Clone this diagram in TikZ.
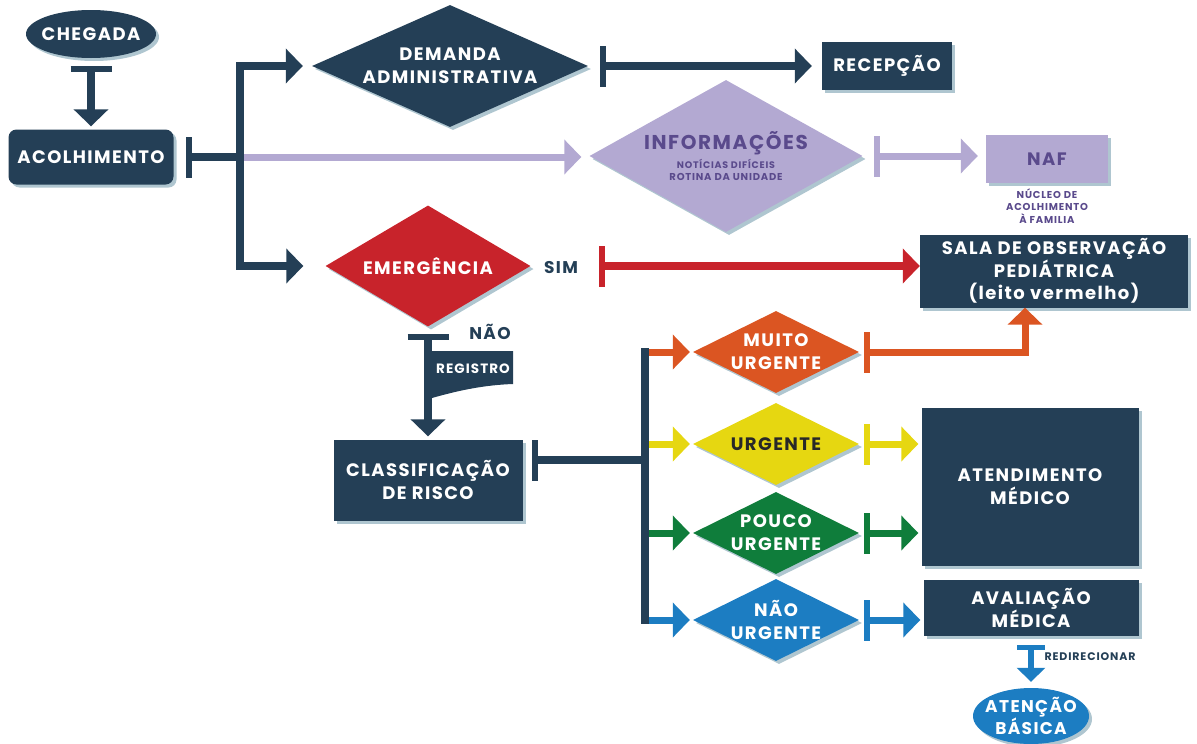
\documentclass[tikz,border=0pt]{standalone}
\usepackage{fontspec}
\setmainfont{Poppins}[LetterSpace=8]
\usetikzlibrary{calc, arrows.meta, shapes, shadows}

\definecolor{navy}{RGB}{36,63,86}
\definecolor{lilas}{RGB}{179,169,210}
\definecolor{roxo}{RGB}{90,74,140}
\definecolor{vermelho}{RGB}{200,35,43}
\definecolor{laranja}{RGB}{219,85,34}
\definecolor{amarelo}{RGB}{230,215,17}
\definecolor{verde}{RGB}{15,125,59}
\definecolor{azul}{RGB}{28,125,194}
\definecolor{sombra}{RGB}{175,198,208}
\definecolor{tinta}{RGB}{40,40,40}

\newcommand{\fgrande}{\bfseries\fontsize{18}{23}\selectfont}

\begin{document}
\begin{tikzpicture}[x=1pt, y=-1pt,
  shd/.style={general shadow={fill=sombra, shadow xshift=3pt, shadow yshift=-3pt}},
  box/.style={rectangle, fill=navy, text=white, font=\fgrande, align=center, inner sep=0pt, shd},
  dia/.style={diamond, inner sep=0pt, shd},
  oval/.style={ellipse, inner sep=0pt, shd},
  every label/.style={font=\fgrande, text=white, align=center, inner sep=0pt},
  seta/.style={line width=8pt, {Bar[width=41pt, line width=6pt]}-{Triangle[width=34pt, length=17pt]}},
  seta2/.style={line width=8pt, -{Triangle[width=34pt, length=17pt]}}]
  \useasboundingbox (0,0) rectangle (1197,744);

  \node[oval, fill=navy, minimum width=130pt, minimum height=48pt, label=center:CHEGADA] (cheg) at (91,34) {};
  \node[box, rounded corners=8pt, minimum width=165pt, minimum height=55pt] (acolh) at (91,157) {ACOLHIMENTO};

  \node[dia, fill=navy, minimum width=276pt, minimum height=122pt, label=center:{DEMANDA\\ADMINISTRATIVA}] (demanda) at (450,66) {};
  \node[box, minimum width=130pt, minimum height=48pt] (recep) at (887,66) {RECEPÇÃO};

  \node[dia, fill=lilas, minimum width=273pt, minimum height=152pt,
        label={[text=roxo, font=\bfseries]center:{\fontsize{20}{22}\selectfont INFORMAÇÕES\\[3pt]\fontsize{9.5}{13}\selectfont NOTÍCIAS DIFÍCEIS\\ROTINA DA UNIDADE}}] (info) at (726,156) {};
  \node[box, fill=lilas, text=roxo, minimum width=122pt, minimum height=48pt] (naf) at (1047,159) {NAF};
  \node[text=roxo, font=\bfseries\fontsize{10}{12.5}\selectfont, align=center] (nafnota) at (1047,206) {NÚCLEO DE\\ACOLHIMENTO\\À FAMILIA};

  \node[dia, fill=vermelho, minimum width=205pt, minimum height=121pt, label=center:EMERGÊNCIA] (emerg) at (428,266) {};
  \node[text=navy, font=\bfseries\fontsize{17}{18}\selectfont] (sim) at (561,268) {SIM};
  \node[box, font=\bfseries\fontsize{18}{22}\selectfont, minimum width=268pt, minimum height=73pt] (sala) at (1054,271) {SALA DE OBSERVAÇÃO\\PEDIÁTRICA\\(leito vermelho)};

  \node[text=navy, font=\bfseries\fontsize{17}{18}\selectfont] (nao) at (490,332) {NÃO};
  \fill[navy] (432,351) -- (513,351) -- (513,384) .. controls (485,385) and (460,390) .. (432,398) -- cycle;
  \node[text=white, font=\bfseries\fontsize{13.5}{15}\selectfont] (reg) at (473,369) {REGISTRO};
  \node[box, minimum width=189pt, minimum height=81pt] (classif) at (428,480) {CLASSIFICAÇÃO\\DE RISCO};

  \node[dia, fill=laranja, minimum width=166pt, minimum height=82pt, label=center:{MUITO\\URGENTE}] (muito) at (776,352) {};
  \node[dia, fill=amarelo, minimum width=166pt, minimum height=82pt, label={[text=tinta]center:URGENTE}] (urg) at (776,444) {};
  \node[dia, fill=verde, minimum width=166pt, minimum height=82pt, label=center:{POUCO\\URGENTE}] (pouco) at (776,533) {};
  \node[dia, fill=azul, minimum width=166pt, minimum height=82pt, label=center:{NÃO\\URGENTE}] (naourg) at (776,620) {};

  \node[box, minimum width=217pt, minimum height=158pt] (atend) at (1030,487) {ATENDIMENTO\\MÉDICO};
  \node[box, font=\bfseries\fontsize{18}{22}\selectfont, minimum width=215pt, minimum height=56pt] (aval) at (1031,608) {AVALIAÇÃO\\MÉDICA};
  \node[text=navy, font=\bfseries\fontsize{11}{12}\selectfont, anchor=west] (redir) at (1041,657) {REDIRECIONAR};
  \node[oval, fill=azul, minimum width=116pt, minimum height=56pt, label={[font=\bfseries\fontsize{17}{20}\selectfont]center:{ATENÇÃO\\BÁSICA}}] (aten) at (1031,716) {};

  % acolhimento
  \draw[navy, seta, shorten <=8pt, shorten >=3pt] (cheg.south) -- (acolh.north);
  \coordinate (j1) at (240,157);
  \draw[lilas, seta2, line width=7pt, shorten >=8pt] (j1) -- (j1 -| info.west);
  \draw[navy, line width=8pt, {Bar[width=41pt, line width=6pt]}-, shorten <=12pt] (acolh.east) -- (j1);
  \draw[navy, seta2, shorten >=9pt] (j1) |- (demanda.west);
  \draw[navy, seta2, shorten >=22pt] (j1) |- (emerg.west);

  \draw[navy, seta, shorten <=12pt, shorten >=10pt] (demanda.east) -- (recep.west);
  \draw[lilas, seta, line width=7pt, shorten <=11pt, shorten >=8pt] (info.east) -- (info.east -| naf.west);
  \draw[vermelho, seta, shorten <=68pt] (emerg.east) -- (emerg.east -| sala.west);
  \draw[navy, seta, shorten <=7pt, shorten >=3pt] (emerg.south) -- (classif.north);

  % classificacao
  \coordinate (j2) at (645,460);
  \coordinate (r1) at (645,352);
  \coordinate (r2) at (645,444);
  \coordinate (r3) at (645,533);
  \coordinate (r4) at (645,620);
  \draw[navy, line width=8pt, {Bar[width=41pt, line width=6pt]}-, shorten <=9pt] ([yshift=20pt]classif.east) -- (j2);
  \draw[laranja, seta2, line width=7pt, shorten >=3pt] (r1) -- (muito.west);
  \draw[amarelo, seta2, line width=7pt, shorten >=3pt] (r2) -- (urg.west);
  \draw[verde, seta2, line width=7pt, shorten >=3pt] (r3) -- (pouco.west);
  \draw[azul, seta2, line width=7pt, shorten >=3pt] (r4) -- (naourg.west);
  \draw[navy, line width=8pt, line cap=rect] (r1) -- (r4);

  \draw[laranja, seta, line width=7pt, shorten <=5pt] (muito.east) -| ([xshift=-29pt]sala.south);
  \draw[amarelo, seta, line width=7pt, shorten <=5pt, shorten >=3pt] (urg.east) -- (urg.east -| atend.west);
  \draw[verde, seta, line width=7pt, shorten <=5pt, shorten >=3pt] (pouco.east) -- (pouco.east -| atend.west);
  \draw[azul, seta, line width=7pt, shorten <=5pt, shorten >=3pt] (naourg.east) -- (naourg.east -| aval.west);
  \draw[azul, line width=6pt, {Bar[width=28pt, line width=5pt]}-{Triangle[width=28pt, length=14pt]}, shorten <=9pt, shorten >=6pt] (aval.south) -- (aten.north);
\end{tikzpicture}
\end{document}
